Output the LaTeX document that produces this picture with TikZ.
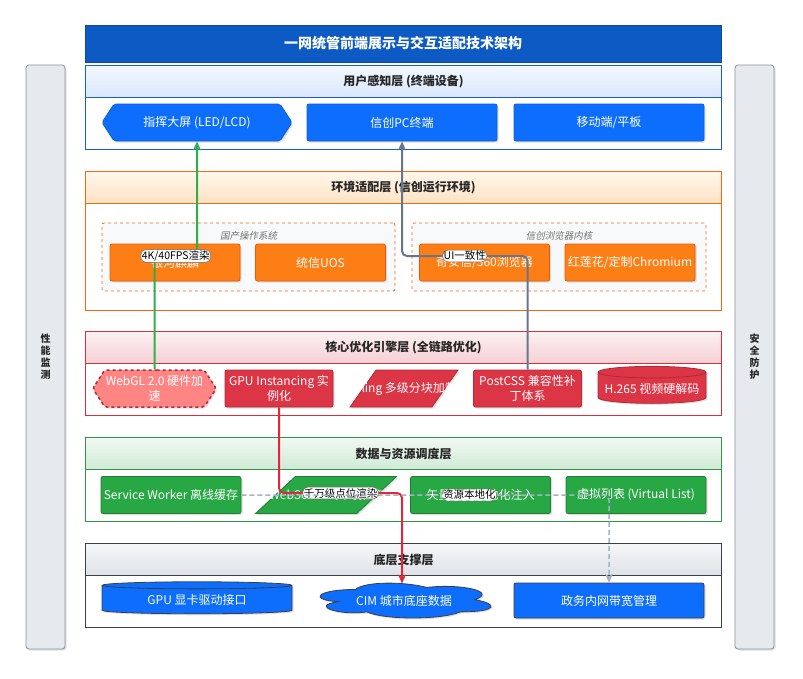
\documentclass[tikz,border=0pt]{standalone}
\usepackage{fontspec}
\setmainfont{Noto Sans CJK SC}
\newfontfamily\slantfont[FakeSlant=0.2]{Noto Sans CJK SC}
\usepackage{tikz}
\usetikzlibrary{positioning,arrows.meta,shapes.geometric,shapes.symbols,shadows}

\definecolor{titlefill}{HTML}{0D5AC4}
\definecolor{titledraw}{HTML}{0A4A9F}
\definecolor{userline}{HTML}{1A5FC0}
\definecolor{userhead}{HTML}{D8E7FB}
\definecolor{nodeblue}{HTML}{0D6EFD}
\definecolor{blueline}{HTML}{0B5ED7}
\definecolor{envline}{HTML}{F06A12}
\definecolor{envhead}{HTML}{FFE2C2}
\definecolor{nodeorange}{HTML}{FD7E14}
\definecolor{orangeline}{HTML}{E8590C}
\definecolor{coreline}{HTML}{D62F3D}
\definecolor{corehead}{HTML}{F5CFD4}
\definecolor{nodered}{HTML}{DC3545}
\definecolor{redline}{HTML}{B02A37}
\definecolor{nodesalmon}{HTML}{FF8585}
\definecolor{dataline}{HTML}{2E9645}
\definecolor{datahead}{HTML}{D0EAD6}
\definecolor{nodegreen}{HTML}{28A745}
\definecolor{greenline}{HTML}{1E7E34}
\definecolor{supportline}{HTML}{3A3F47}
\definecolor{supporthead}{HTML}{DEE2E7}
\definecolor{sidefill}{HTML}{E6E9ED}
\definecolor{sideline}{HTML}{8A929C}
\definecolor{groupfill}{HTML}{F8F9FA}
\definecolor{flowgreen}{HTML}{2DB04B}
\definecolor{flowslate}{HTML}{66768C}
\definecolor{flowred}{HTML}{E0283A}
\definecolor{flowdash}{HTML}{A3B1C4}

\tikzset{
    >={Stealth[length=9pt,width=8pt]},
    softshadow/.style={
        drop shadow={shadow xshift=1.5pt, shadow yshift=-1.5pt, opacity=0.25}
    },
    titlebar/.style={
        rectangle,
        draw=titledraw, fill=titlefill, line width=1pt,
        text=white,
        font=\fontsize{14}{16}\selectfont\bfseries,
        minimum width=636pt,
        minimum height=37pt
    },
    layerbody/.style={
        rectangle,
        draw=#1, fill=white, line width=1pt,
        minimum width=636pt,
        anchor=north west,
        inner sep=0pt
    },
    layerhead/.style 2 args={
        rectangle,
        draw=#1, line width=1pt,
        top color=#2!30!white, bottom color=#2,
        minimum width=636pt,
        minimum height=32pt,
        anchor=north west,
        text=black!85,
        font=\fontsize{12}{14}\selectfont\bfseries
    },
    unit/.style 2 args={
        rectangle,
        rounded corners=2pt,
        draw=#2, fill=#1, line width=0.8pt,
        text=white,
        font=\fontsize{12}{15}\selectfont,
        minimum height=37pt,
        inner sep=1pt,
        align=center,
        softshadow
    },
    unittext/.style={
        text=white,
        font=\fontsize{12}{15}\selectfont
    },
    osgroup/.style={
        rectangle,
        rounded corners=2pt,
        draw=envline, dashed, line width=0.8pt, fill=groupfill,
        minimum height=68pt
    },
    grouptag/.style={
        text=black!55,
        font=\fontsize{9.5}{11}\slantfont
    },
    sidebar/.style={
        rectangle,
        rounded corners=3pt,
        draw=sideline, fill=sidefill, line width=0.8pt,
        minimum width=39pt,
        minimum height=584pt,
        align=center,
        text=black!85,
        font=\fontsize{10}{12}\selectfont\bfseries,
        softshadow
    },
    flowline/.style={draw=#1, line width=2pt, rounded corners=5pt, ->},
    flowtag/.style={
        rectangle,
        draw=black!60, fill=white, line width=0.5pt,
        inner sep=1pt,
        text=black,
        font=\fontsize{10.5}{12}\selectfont
    }
}

\begin{document}
\begin{tikzpicture}[x=1pt, y=-1pt]
\useasboundingbox (0,0) rectangle (803,678);
\fill[white] (0,0) rectangle (803,678);

% side bars
\node[sidebar] (perf) at (45.5,357) {性\\能\\监\\测};
\node[sidebar] (safe) at (754.5,357) {安\\全\\防\\护};

% title
\node[titlebar] (title) at (403,43.5) {一网统管前端展示与交互适配技术架构};

% user layer
\node[layerbody=userline, minimum height=84pt] (userbox) at (85,65) {};
\node[layerhead={userline}{userhead}] (userhead) at (85,65) {用户感知层 (终端设备)};
\node[unit={nodeblue}{blueline}, signal, signal to=west and east, signal pointer angle=114,
      minimum width=190pt] (screen) at (197,122.5) {指挥大屏 (LED/LCD)};
\node[unit={nodeblue}{blueline}, minimum width=190pt] (pc) at (402,122.5) {信创PC终端};
\node[unit={nodeblue}{blueline}, minimum width=190pt] (mobile) at (609,122.5) {移动端/平板};

% environment layer
\node[layerbody=envline, minimum height=139pt] (envbox) at (85,171) {};
\node[layerhead={envline}{envhead}] (envhead) at (85,171) {环境适配层 (信创运行环境)};
\node[osgroup, minimum width=293pt] (osarea) at (248.5,257) {};
\node[osgroup, minimum width=294pt] (kernelarea) at (559,257) {};
\node[grouptag] (ostag) at (248.5,236) {国产操作系统};
\node[grouptag] (kerneltag) at (559,236) {信创浏览器内核};
\node[unit={nodeorange}{orangeline}, minimum width=130pt] (kylin) at (175,262.5) {银河麒麟};
\node[unit={nodeorange}{orangeline}, minimum width=130pt] (uos) at (320.5,262.5) {统信UOS};
\node[unit={nodeorange}{orangeline}, minimum width=130pt] (qax) at (484.5,262.5) {奇安信/360浏览器};
\node[unit={nodeorange}{orangeline}, minimum width=130pt] (chromium) at (630,262.5) {红莲花/定制Chromium};

% core layer
\node[layerbody=coreline, minimum height=84pt] (corebox) at (85,331) {};
\node[layerhead={coreline}{corehead}] (corehead) at (85,331) {核心优化引擎层 (全链路优化)};
\node[unit={nodesalmon}{redline}, signal, signal to=west and east, signal pointer angle=114,
      dashed, line width=1.5pt, minimum width=106pt] (webgl) at (154.5,388.5) {WebGL 2.0 硬件加\\速};
\node[unit={nodered}{redline}, minimum width=108pt] (gpuinst) at (279,388.5) {GPU Instancing 实\\例化};
\node[unit={nodered}{redline}, trapezium, trapezium left angle=65, trapezium right angle=115,
      trapezium stretches=true, minimum width=108pt, rounded corners=0pt] (tiling) at (404,388.5) {};
\node[unittext] (tilingtext) at (tiling.center) {Tiling 多级分块加载};
\node[unit={nodered}{redline}, minimum width=108pt] (postcss) at (527.5,388.5) {PostCSS 兼容性补\\丁体系};
\node[unit={nodered}{redline}, cylinder, shape border rotate=90, aspect=0.12,
      minimum width=108pt, minimum height=37pt, rounded corners=0pt] (hevc) at (652,388.5) {H.265 视频硬解码};

% data layer
\node[layerbody=dataline, minimum height=84pt] (databox) at (85,437) {};
\node[layerhead={dataline}{datahead}] (datahead) at (85,437) {数据与资源调度层};
\node[unit={nodegreen}{greenline}, minimum width=140pt] (sw) at (171,495) {Service Worker 离线缓存};
\node[unit={nodegreen}{greenline}, trapezium, trapezium left angle=57, trapezium right angle=123,
      trapezium stretches=true, minimum width=141pt, rounded corners=0pt] (websocket) at (326,495) {};
\node[unittext] (websockettext) at (websocket.center) {WebSocket 实时推流};
\node[unit={nodegreen}{greenline}, minimum width=140pt] (vecfont) at (480.5,495) {矢量字体本地化注入};
\node[unit={nodegreen}{greenline}, minimum width=140pt] (vlist) at (636,495) {虚拟列表 (Virtual List)};

% support layer
\node[layerbody=supportline, minimum height=84pt] (supportbox) at (85,543) {};
\node[layerhead={supportline}{supporthead}] (supporthead) at (85,543) {底层支撑层};
\node[unit={nodeblue}{supportline}, cylinder, shape border rotate=90, aspect=0.07,
      minimum width=190pt, minimum height=32pt, rounded corners=0pt] (gpudrv) at (197,600) {GPU 显卡驱动接口};
\begin{scope}[shift={(307.6,579.3)}, x=191pt, y=-40.7pt]
    \draw[fill=nodeblue, draw=supportline, line width=0.8pt, softshadow] (0.25,0.25)
        .. controls (0.05,0.25) and (0,0.5) .. (0.16,0.55)
        .. controls (0,0.66) and (0.18,0.9) .. (0.31,0.8)
        .. controls (0.4,1) and (0.7,1) .. (0.8,0.8)
        .. controls (1,0.8) and (1,0.6) .. (0.875,0.5)
        .. controls (1,0.3) and (0.8,0.1) .. (0.625,0.2)
        .. controls (0.5,0.05) and (0.3,0.05) .. (0.25,0.25) -- cycle;
\end{scope}
\node[unittext] (cim) at (404,600.5) {CIM 城市底座数据};
\coordinate (cimtop) at (402,583.5);
\node[unit={nodeblue}{supportline}, minimum width=190pt, minimum height=35pt] (gov) at (609,600.5) {政务内网带宽管理};

% flows
\draw[flowline=flowgreen] (webgl.north) -- (webgl.north |- 0,256)
    -- node[flowtag]{4K/40FPS渲染} (screen.south |- 0,256) -- (screen.south);
\draw[flowline=flowslate] (postcss.north) -- (postcss.north |- 0,256)
    -- node[flowtag]{UI一致性} (pc.south |- 0,256) -- (pc.south);
\draw[flowline=flowred] (gpuinst.south) -- (gpuinst.south |- 0,493)
    -- node[flowtag]{千万级点位渲染} (cimtop |- 0,493) -- (cimtop);
\draw[flowline=flowdash, line width=1.5pt, dash pattern=on 5pt off 3pt] (sw.east)
    -- node[flowtag, pos=0.62]{资源本地化} (sw.east -| gov.north) -- (gov.north);
\end{tikzpicture}
\end{document}
